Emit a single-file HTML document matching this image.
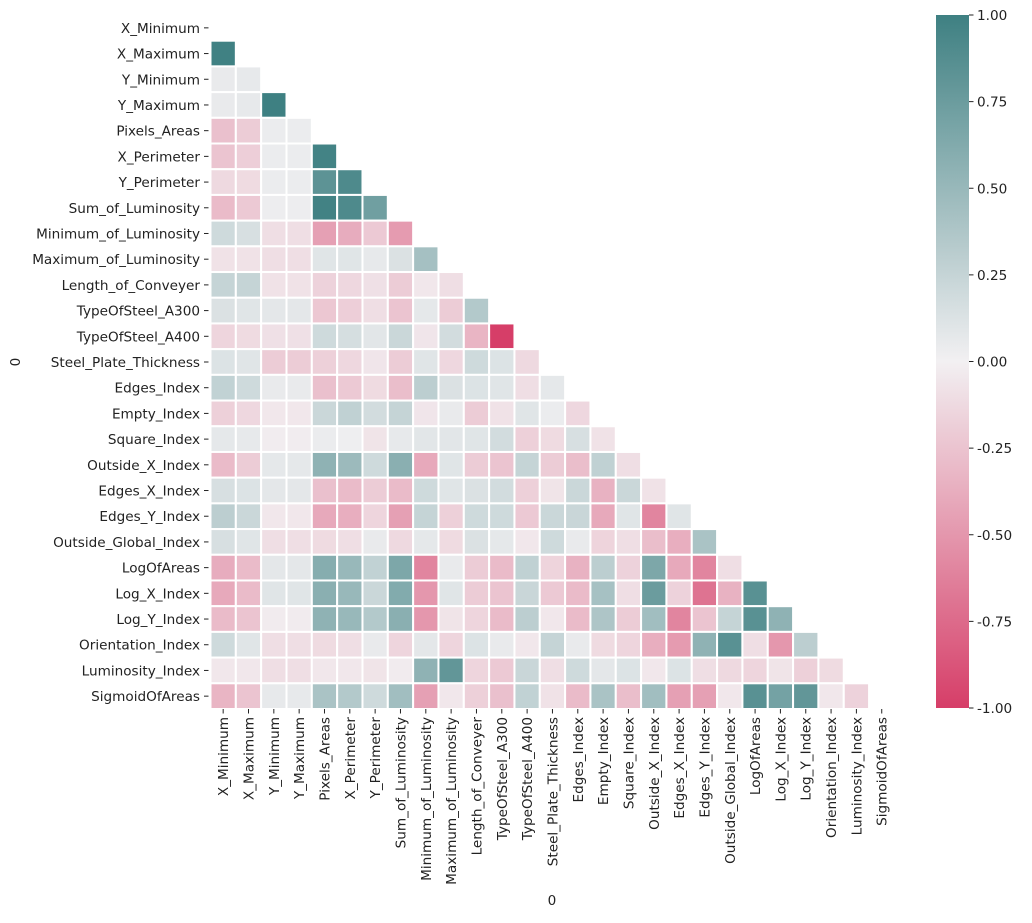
<!DOCTYPE html>
<html><head><meta charset="utf-8"><style>
body{margin:0;background:#fff;font-family:"DejaVu Sans",sans-serif}
svg text{font-family:"DejaVu Sans","Liberation Sans",sans-serif;font-size:13.6px;fill:#222}
</style></head><body>
<svg id="chart" width="1032" height="919" xmlns="http://www.w3.org/2000/svg"></svg>
<script>
const labels=["X_Minimum","X_Maximum","Y_Minimum","Y_Maximum","Pixels_Areas","X_Perimeter","Y_Perimeter","Sum_of_Luminosity","Minimum_of_Luminosity","Maximum_of_Luminosity","Length_of_Conveyer","TypeOfSteel_A300","TypeOfSteel_A400","Steel_Plate_Thickness","Edges_Index","Empty_Index","Square_Index","Outside_X_Index","Edges_X_Index","Edges_Y_Index","Outside_Global_Index","LogOfAreas","Log_X_Index","Log_Y_Index","Orientation_Index","Luminosity_Index","SigmoidOfAreas"];
const lowerRows=[
[],
[0.99],
[0.05,0.06],
[0.05,0.06,1.0],
[-0.27,-0.2,0.04,0.04],
[-0.25,-0.19,0.04,0.04,0.97],
[-0.13,-0.12,0.04,0.04,0.83,0.91],
[-0.3,-0.22,0.03,0.03,0.98,0.91,0.72],
[0.2,0.15,-0.1,-0.1,-0.45,-0.38,-0.22,-0.48],
[-0.08,-0.08,-0.1,-0.1,0.1,0.1,0.06,0.13,0.43],
[0.25,0.25,-0.08,-0.08,-0.17,-0.14,-0.09,-0.2,-0.05,-0.1],
[0.13,0.1,0.08,0.08,-0.23,-0.19,-0.1,-0.25,0.07,-0.2,0.35],
[-0.15,-0.12,-0.09,-0.09,0.2,0.16,0.09,0.22,-0.06,0.18,-0.33,-1.0],
[0.12,0.1,-0.2,-0.2,-0.18,-0.14,-0.06,-0.2,0.1,-0.14,0.2,0.12,-0.13],
[0.27,0.2,0.05,0.05,-0.27,-0.22,-0.12,-0.28,0.3,0.13,0.12,0.1,-0.1,0.07],
[-0.18,-0.14,-0.05,-0.05,0.22,0.28,0.18,0.25,-0.06,0.05,-0.2,-0.08,0.1,0.04,-0.14],
[0.07,0.06,-0.02,-0.02,0.04,0.02,-0.07,0.06,0.09,0.09,0.1,0.18,-0.18,-0.12,0.15,-0.08],
[-0.3,-0.2,0.07,0.07,0.55,0.48,0.2,0.58,-0.4,0.1,-0.2,-0.25,0.25,-0.2,-0.28,0.28,-0.1],
[0.15,0.12,0.08,0.08,-0.27,-0.3,-0.2,-0.3,0.2,0.1,0.13,0.18,-0.18,-0.07,0.22,-0.35,0.22,-0.08],
[0.3,0.22,-0.05,-0.05,-0.4,-0.37,-0.15,-0.45,0.25,-0.18,0.2,0.2,-0.22,0.22,0.23,-0.4,0.1,-0.6,0.1],
[0.15,0.1,-0.1,-0.1,-0.12,-0.1,0.05,-0.13,0.07,-0.12,0.13,0.07,-0.05,0.2,0.05,-0.16,-0.1,-0.28,-0.37,0.4],
[-0.38,-0.3,0.08,0.08,0.6,0.5,0.27,0.65,-0.6,0.05,-0.2,-0.3,0.28,-0.16,-0.35,0.3,-0.17,0.65,-0.4,-0.6,-0.1],
[-0.4,-0.3,0.1,0.1,0.58,0.5,0.22,0.62,-0.5,0.1,-0.2,-0.25,0.23,-0.22,-0.3,0.42,-0.1,0.75,-0.17,-0.7,-0.35,0.85],
[-0.3,-0.25,-0.03,-0.03,0.55,0.5,0.35,0.58,-0.5,-0.07,-0.15,-0.3,0.3,-0.05,-0.3,0.38,-0.2,0.45,-0.6,-0.25,0.25,0.85,0.55],
[0.2,0.1,-0.1,-0.1,-0.12,-0.1,0.05,-0.15,0.08,-0.15,0.12,0.05,-0.05,0.25,0.05,-0.12,-0.15,-0.37,-0.48,0.55,0.85,-0.1,-0.5,0.3],
[-0.05,-0.05,-0.1,-0.1,-0.05,-0.05,-0.07,-0.03,0.55,0.8,-0.15,-0.22,0.23,-0.1,0.2,0.08,0.12,-0.05,0.12,-0.1,-0.13,-0.15,-0.07,-0.18,-0.12],
[-0.33,-0.25,0.06,0.06,0.4,0.35,0.2,0.45,-0.45,-0.05,-0.18,-0.27,0.27,-0.08,-0.3,0.4,-0.28,0.45,-0.45,-0.45,-0.05,0.85,0.7,0.8,-0.05,-0.17]
];
const cbTicks=[1.0,0.75,0.5,0.25,0,-0.25,-0.5,-0.75,-1.0];

const NS="http://www.w3.org/2000/svg";
const svg=document.getElementById('chart');
const n=labels.length;
const L=210.5,R=894.4,T=15,B=709;
const cw=(R-L)/n,ch=(B-T)/n;
const xPos=i=>L+i*cw, yPos=i=>T+i*ch;
const NEG=[214,62,104],MID=[242,240,242],POS=[62,128,130];
function color(v){v=Math.max(-1,Math.min(1,v));const a=v<0?NEG:POS,t=Math.abs(v);
return 'rgb('+[0,1,2].map(k=>Math.round(MID[k]+(a[k]-MID[k])*t)).join(',')+')';}
function mk(tag,attrs,txt){const e=document.createElementNS(NS,tag);for(const k in attrs)e.setAttribute(k,attrs[k]);if(txt!==undefined)e.textContent=txt;svg.appendChild(e);return e;}

for(let i=0;i<n;i++){for(let j=0;j<lowerRows[i].length;j++){
const r=mk('rect',{x:xPos(j),y:yPos(i),width:cw,height:ch,fill:color(lowerRows[i][j]),stroke:'#fff','stroke-width':2});


}}
for(let i=0;i<n;i++){
const yc=yPos(i)+ch/2;
mk('line',{x1:204,x2:208.5,y1:yc,y2:yc,stroke:'#222','stroke-width':1});
const t=mk('text',{x:200,y:yc+5,'text-anchor':'end'},labels[i]);


const xc=xPos(i)+cw/2;
mk('line',{x1:xc,x2:xc,y1:709,y2:713.5,stroke:'#222','stroke-width':1});
const u=mk('text',{x:0,y:0,'text-anchor':'end',transform:'translate('+(xc+5)+',717) rotate(-90)'},labels[i]);


}
const yt=mk('text',{x:0,y:0,'text-anchor':'middle',transform:'translate(20,362) rotate(-90)'},'0');


const xt=mk('text',{x:552,y:905,'text-anchor':'middle'},'0');



const cbX=936,cbW=33,cbT=15,cbB=708;
const defs=mk('defs',{});
const g=document.createElementNS(NS,'linearGradient');g.setAttribute('id','cbg');g.setAttribute('x1',0);g.setAttribute('x2',0);g.setAttribute('y1',0);g.setAttribute('y2',1);defs.appendChild(g);
for(let k=0;k<=20;k++){const v=1-k/10;const s=document.createElementNS(NS,'stop');s.setAttribute('offset',(k/20));s.setAttribute('stop-color',color(v));g.appendChild(s);}
const cb=mk('rect',{x:cbX,y:cbT,width:cbW,height:cbB-cbT,fill:'url(#cbg)'});


const cbY=v=>cbT+(1-v)/2*(cbB-cbT);
cbTicks.forEach(v=>{const y=cbY(v);
mk('line',{x1:cbX+cbW,x2:cbX+cbW+4.5,y1:y,y2:y,stroke:'#222','stroke-width':1});
const t=mk('text',{x:cbX+cbW+8,y:y+5},v.toFixed(2));


});
</script>
</body></html>
